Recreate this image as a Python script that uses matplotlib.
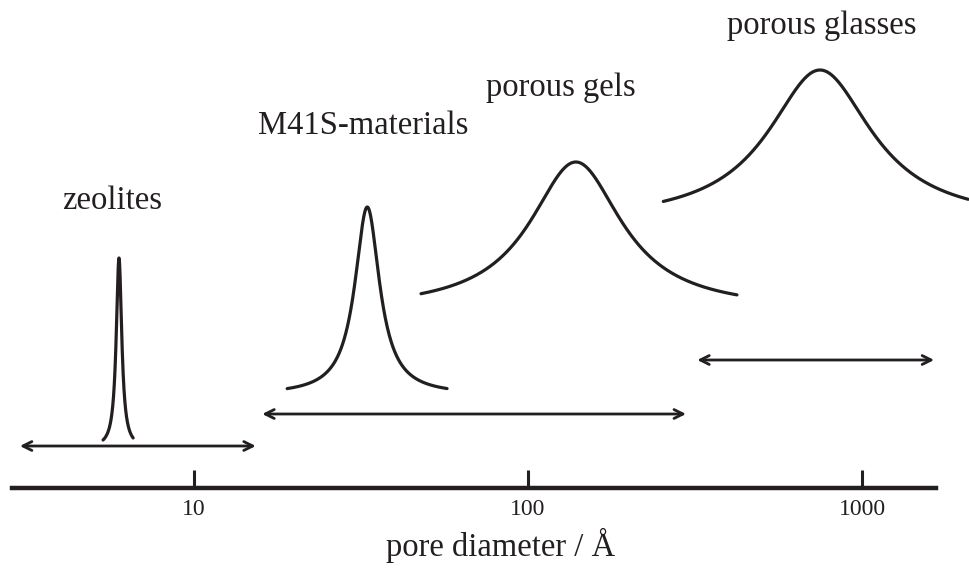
import matplotlib.pyplot as plt
import numpy as np

# pore size distributions (diameter in Angstrom, heights above the axis line)
labels = ["zeolites", "M41S-materials", "porous gels", "porous glasses"]
peak_d = [5.96, 33.0, 139.0, 748.0]         # peak position / A
curve_lo = [5.34, 19.0, 47.8, 254.0]        # curve start / A
curve_hi = [6.57, 57.2, 422.0, 2077.0]      # curve end / A
peak_h = [230, 281, 326, 418]               # top of peak
base_h = [40, 93, 177, 265]                 # level far from peak
width_dec = [0.010, 0.045, 0.168, 0.19]     # half width in decades

# size ranges shown by the double arrows
range_lo = [3.01, 16.0, 321.0]
range_hi = [15.3, 297.0, 1643.0]
range_h = [42, 74, 128]

label_pos = [(5.68, 287), (32.1, 362), (125.6, 400), (759.0, 462)]

ticks = [10, 100, 1000]
ink = "#231f20"

plt.rcParams['font.family'] = ['Liberation Serif', 'DejaVu Serif']

fig = plt.figure(figsize=(9.7, 5.68), dpi=100)
ax = fig.add_axes([0, 0, 1, 1])
ax.set_xscale("log")
ax.set_xlim(10 ** 0.419, 10 ** 3.323)
ax.set_ylim(-80, 488)

for i in range(len(labels)):
    x = np.logspace(np.log10(curve_lo[i]), np.log10(curve_hi[i]), 600)
    d = (np.log10(x) - np.log10(peak_d[i])) / width_dec[i]
    y = base_h[i] + (peak_h[i] - base_h[i]) / (1 + d ** 2)
    ax.plot(x, y, color=ink, lw=2.3, solid_capstyle="round")
    ax.text(label_pos[i][0], label_pos[i][1], labels[i], ha="center", va="center",
            fontsize=23.5, color=ink)

for lo, hi, h in zip(range_lo, range_hi, range_h):
    ax.annotate("", xy=(lo, h), xytext=(hi, h),
                arrowprops=dict(arrowstyle="<->", lw=2, color=ink, mutation_scale=16,
                                shrinkA=0, shrinkB=0))

for s in ["top", "right", "left"]:
    ax.spines[s].set_visible(False)
ax.spines["bottom"].set_position(("data", 0))
ax.spines["bottom"].set_bounds(2.85, 1666)
ax.spines["bottom"].set_linewidth(3.2)
ax.spines["bottom"].set_color(ink)
ax.set_yticks([])
ax.set_xticks(ticks)
ax.set_xticklabels([str(t) for t in ticks])
ax.xaxis.set_minor_locator(plt.NullLocator())
ax.tick_params(axis="x", direction="in", length=13, width=2.2, color=ink,
               labelsize=17, pad=8, labelcolor=ink)

fig.text(0.5165, 0.0405, "pore diameter / Å", ha="center", va="center",
         fontsize=23.5, color=ink)

plt.savefig("out.png")
